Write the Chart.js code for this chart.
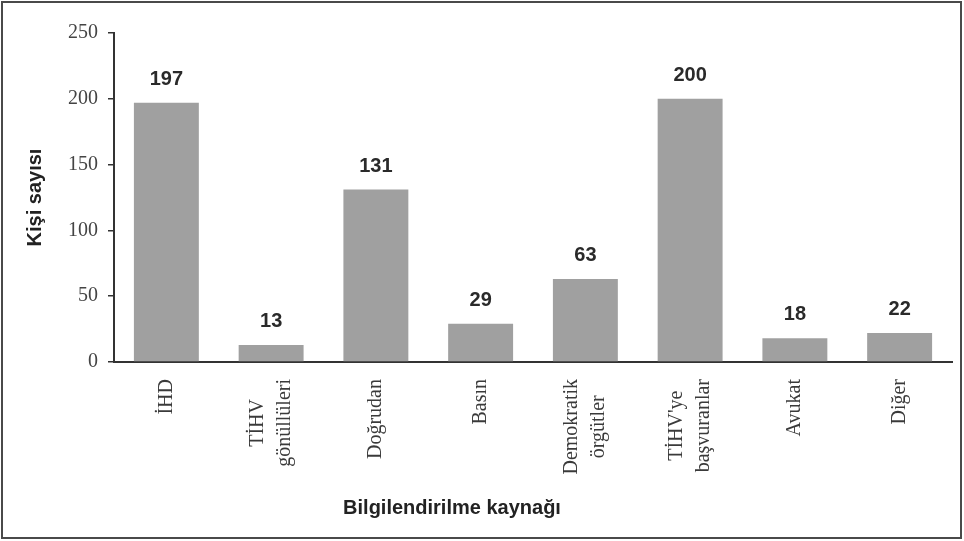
<!DOCTYPE html>
<html lang="tr">
<head>
<meta charset="utf-8">
<script src="https://cdn.jsdelivr.net/npm/chart.js@4/dist/chart.umd.min.js"></script>
<style>
    html, body { margin: 0; padding: 0; background: #fff; }
    #wrap { position: relative; width: 964px; height: 541px; }
</style>
</head>
<body>
<div id="wrap"><canvas id="chart"></canvas></div>
<script>
    // data
    const categories = [
        ['İHD'],
        ['TİHV', 'gönüllüleri'],
        ['Doğrudan'],
        ['Basın'],
        ['Demokratik', 'örgütler'],
        ["TİHV'ye", 'başvuranlar'],
        ['Avukat'],
        ['Diğer']
    ];
    const counts = [197, 13, 131, 29, 63, 200, 18, 22];
    const yTicks = [0, 50, 100, 150, 200, 250];

    const yTitle = 'Kişi sayısı';
    const xTitle = 'Bilgilendirilme kaynağı';

    const serif = "'Liberation Serif', 'Times New Roman', serif";
    const sans = "'Liberation Sans', Arial, sans-serif";

    // frame around the whole figure
    const framePlugin = {
        id: 'frame',
        afterDraw(chart) {
            const ctx = chart.ctx;
            ctx.save();
            ctx.strokeStyle = '#4a4a4a';
            ctx.lineWidth = 2;
            ctx.strokeRect(2, 2, chart.width - 5, chart.height - 5);
            ctx.restore();
        }
    };

    // value labels above bars
    const valuePlugin = {
        id: 'values',
        afterDatasetsDraw(chart) {
            const ctx = chart.ctx;
            const meta = chart.getDatasetMeta(0);
            ctx.save();
            ctx.font = 'bold 20px ' + sans;
            ctx.fillStyle = '#2a2a2a';
            ctx.textAlign = 'center';
            ctx.textBaseline = 'alphabetic';
            meta.data.forEach(function (bar, i) {
                ctx.fillText(String(counts[i]), bar.x, bar.y - 18);
            });
            ctx.restore();
        }
    };

    // rotated category labels, lines centred on each tick
    const xLabelPlugin = {
        id: 'xLabels',
        afterDraw(chart) {
            const ctx = chart.ctx;
            const xs = chart.scales.x;
            const lh = 27;
            ctx.save();
            ctx.font = '20px ' + serif;
            ctx.fillStyle = '#3a3a3a';
            ctx.textBaseline = 'middle';
            categories.forEach(function (lines, i) {
                const px = xs.getPixelForTick(i);
                const widths = lines.map(function (l) { return ctx.measureText(l).width; });
                const maxW = Math.max.apply(null, widths);
                lines.forEach(function (line, j) {
                    const cx = px + (j - (lines.length - 1) / 2) * lh;
                    ctx.save();
                    ctx.translate(cx, xs.top + 17 + maxW / 2);
                    ctx.rotate(-Math.PI / 2);
                    ctx.textAlign = 'center';
                    ctx.fillText(line, 0, 0);
                    ctx.restore();
                });
            });
            // axis title
            ctx.font = 'bold 20px ' + sans;
            ctx.fillStyle = '#222';
            ctx.textAlign = 'center';
            ctx.textBaseline = 'middle';
            const area = chart.chartArea;
            ctx.fillText(xTitle, (area.left + area.right) / 2 - 81, 508);
            ctx.restore();
        }
    };

    new Chart(document.getElementById('chart'), {
        type: 'bar',
        data: {
            labels: categories,
            datasets: [{
                data: counts,
                backgroundColor: '#a0a0a0',
                borderWidth: 0,
                categoryPercentage: 1,
                barPercentage: 0.62
            }]
        },
        options: {
            responsive: true,
            maintainAspectRatio: false,
            animation: false,
            devicePixelRatio: 1,
            layout: { padding: { top: 33, right: 12, left: 10, bottom: 0 } },
            plugins: {
                legend: { display: false },
                tooltip: { enabled: false }
            },
            scales: {
                x: {
                    grid: { display: false },
                    border: { display: true, color: '#333', width: 2 },
                    ticks: { display: false },
                    afterFit: function (scale) { scale.height = 179; }
                },
                y: {
                    min: 0,
                    max: 250,
                    afterBuildTicks: function (scale) {
                        scale.ticks = yTicks.map(function (v) { return { value: v }; });
                    },
                    grid: {
                        display: true,
                        drawOnChartArea: false,
                        drawTicks: true,
                        tickLength: 6,
                        color: '#333',
                        lineWidth: 1.5
                    },
                    border: { display: true, color: '#333', width: 2 },
                    ticks: {
                        font: { family: serif, size: 20 },
                        color: '#444',
                        padding: 10
                    },
                    title: {
                        display: true,
                        text: yTitle,
                        font: { family: sans, size: 20, weight: 'bold' },
                        color: '#222',
                        padding: { top: 13 }
                    },
                    afterFit: function (scale) { scale.width = 104; }
                }
            }
        },
        plugins: [framePlugin, valuePlugin, xLabelPlugin]
    });
</script>
</body>
</html>
